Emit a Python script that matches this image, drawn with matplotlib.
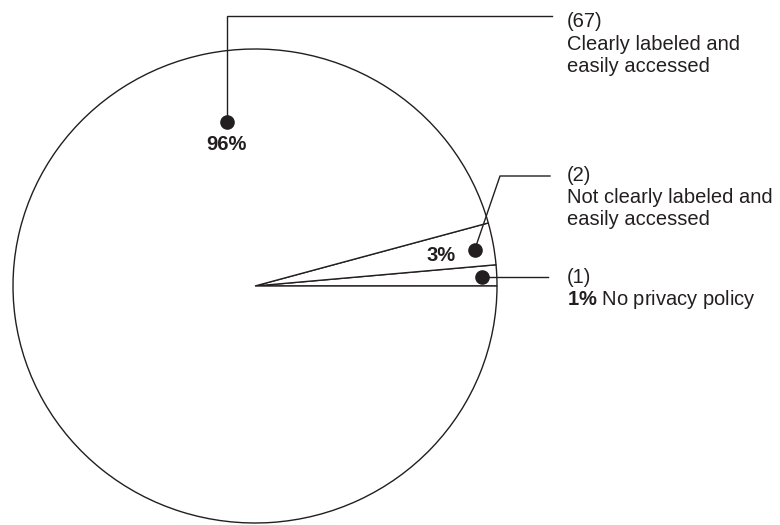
import numpy as np
import matplotlib
matplotlib.use("Agg")
import matplotlib.pyplot as plt

plt.rcParams['font.family'] = ['Liberation Sans', 'DejaVu Sans']
plt.rcParams['mathtext.fontset'] = 'custom'
plt.rcParams['mathtext.rm'] = 'Liberation Sans'
plt.rcParams['mathtext.bf'] = 'Liberation Sans:bold'

# ---- data ----
categories = ["No privacy policy",
              "Not clearly labeled and\neasily accessed",
              "Clearly labeled and\neasily accessed"]
counts = [1, 2, 67]

INK = '#231f20'
FS = 14.5

fig = plt.figure(figsize=(7.8, 5.25), dpi=100)
ax = fig.add_axes([0, 0, 1, 1])

# pixel layout of the pie (center and radii in pixels)
CX, CY, RX, RY = 255, 286, 242, 237
W, H = 780, 525

def P(x, y):
    """pixel (from top-left) -> data coords"""
    return ((x - CX) / RX, (CY - y) / RY)

wedges, _ = ax.pie(counts, startangle=0, counterclock=True, radius=1.0,
                   center=(0, 0),
                   wedgeprops=dict(facecolor='white', edgecolor=INK, linewidth=1.0))
ax.set_aspect('auto')
ax.set_xlim(P(0, 0)[0], P(W, 0)[0])
ax.set_ylim(P(0, H)[1], P(0, 0)[1])
ax.axis('off')

total = sum(counts)
pcts = [int(round(c / total * 100)) for c in counts]

# dot placement (angle in degrees, radial fraction) per slice
mid = [(w.theta1 + w.theta2) / 2 for w in wedges]
dot_angles = [mid[0] - 0.3, mid[1] - 0.8, 99.6]
dot_r = [0.94, 0.92, 0.70]
dots = [(r * np.cos(np.radians(a)), r * np.sin(np.radians(a)))
        for a, r in zip(dot_angles, dot_r)]

for (dx, dy) in dots:
    ax.plot(dx, dy, 'o', color=INK, markersize=9.5, zorder=5)

lw = 1.0
TX = 567  # text left pixel

# --- slice 3 (67) leader: up, then right ---
d = dots[2]
top = P(0, 16)[1]
endx = P(552, 0)[0]
ax.plot([d[0], d[0], endx], [d[1], top, top], color=INK, lw=lw, solid_joinstyle='miter')
ax.text(d[0], d[1] - 22 / RY, f"{pcts[2]}%", ha='center', va='center',
        fontsize=FS, fontweight='bold', color=INK)
lines3 = [f"({counts[2]})"] + categories[2].split("\n")
for i, (s, by) in enumerate(zip(lines3, [27, 50, 72])):
    ax.text(*P(TX, by), s, ha='left', va='baseline', fontsize=FS, color=INK)

# --- slice 2 leader: diagonal, then right ---
d = dots[1]
kx, ky = P(500, 176)
endx = P(550, 0)[0]
ax.plot([d[0], kx, endx], [d[1], ky, ky], color=INK, lw=lw)
ax.text(d[0] - 34 / RX, d[1] - 5 / RY, f"{pcts[1]}%", ha='center', va='center',
        fontsize=FS, fontweight='bold', color=INK)
lines2 = [f"({counts[1]})"] + categories[1].split("\n")
for s, by in zip(lines2, [181, 203, 225]):
    ax.text(*P(TX, by), s, ha='left', va='baseline', fontsize=FS, color=INK)

# --- slice 1 leader: right ---
d = dots[0]
endx = P(548, 0)[0]
ax.plot([d[0], endx], [d[1], d[1]], color=INK, lw=lw)
ax.text(*P(TX, 283), f"({counts[0]})", ha='left', va='baseline', fontsize=FS, color=INK)
ax.text(*P(TX, 305), r"$\mathbf{" + str(pcts[0]) + r"\%}$ " + categories[0],
        ha='left', va='baseline', fontsize=FS, color=INK)

fig.savefig("out.png", dpi=100, facecolor='white')
